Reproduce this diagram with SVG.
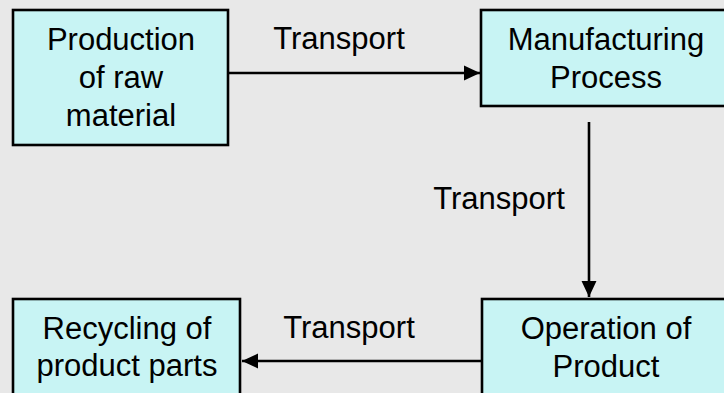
<svg xmlns="http://www.w3.org/2000/svg" width="724" height="393" viewBox="0 0 724 393">
<style>
.box{fill:#c8f4f4;stroke:#000;stroke-width:2.6}
.t{font-family:"Liberation Sans",Arial,sans-serif;font-size:31px;fill:#000;text-anchor:middle}
.c{stroke:#000;stroke-width:2.6;fill:none}
</style>
<defs>
<marker id="ah" markerUnits="userSpaceOnUse" markerWidth="16" markerHeight="16" viewBox="0 0 15 14" refX="15" refY="7" orient="auto">
<path d="M0,0 L15,7 L0,14 Z" fill="#000"/>
</marker>
</defs>
<rect width="724" height="393" fill="#e8e8e8"/>
<g id="n1">
<rect class="box" x="13" y="10" width="215" height="135"/>
<text class="t" x="121" y="50">Production</text>
<text class="t" x="121" y="88">of raw</text>
<text class="t" x="121" y="126">material</text>
</g>
<g id="n2">
<rect class="box" x="481" y="10" width="262" height="96"/>
<text class="t" x="606" y="50">Manufacturing</text>
<text class="t" x="606" y="88">Process</text>
</g>
<g id="n3">
<rect class="box" x="13" y="299" width="227" height="110"/>
<text class="t" x="127" y="339">Recycling of</text>
<text class="t" x="127" y="376">product parts</text>
</g>
<g id="n4">
<rect class="box" x="482" y="299" width="262" height="110"/>
<text class="t" x="606" y="339">Operation of</text>
<text class="t" x="606" y="377">Product</text>
</g>
<g id="connectors">
<line class="c" x1="229" y1="73" x2="480" y2="73" marker-end="url(#ah)"/>
<line class="c" x1="589" y1="122" x2="589" y2="297" marker-end="url(#ah)"/>
<line class="c" x1="481" y1="361" x2="242" y2="361" marker-end="url(#ah)"/>
<text class="t" x="339" y="49">Transport</text>
<text class="t" x="499" y="209">Transport</text>
<text class="t" x="349" y="338">Transport</text>
</g>
</svg>
